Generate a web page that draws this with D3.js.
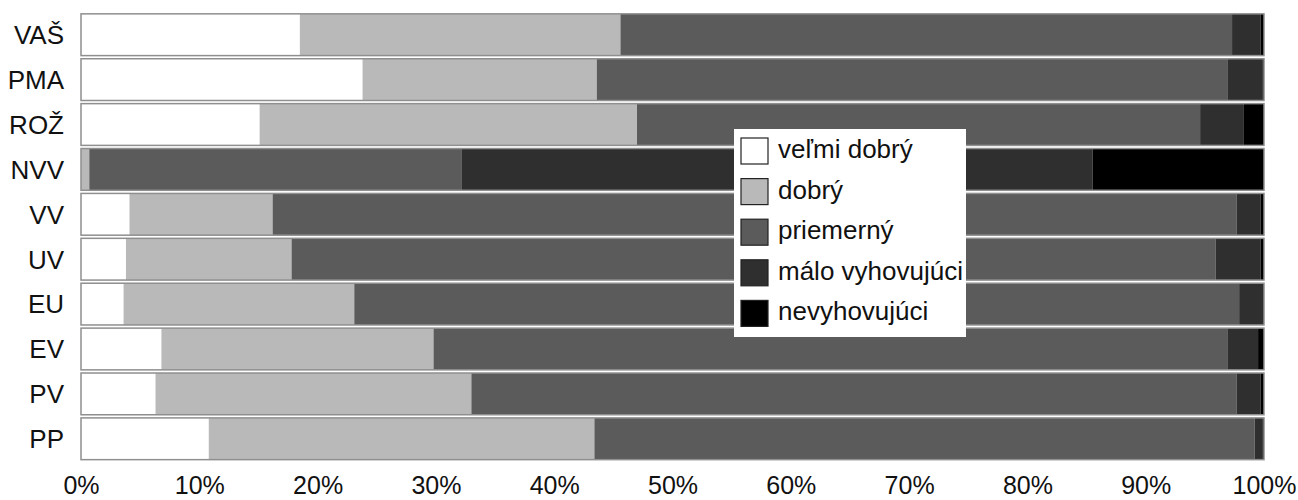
<!DOCTYPE html>
<html>
<head>
<meta charset="utf-8">
<script src="https://cdn.jsdelivr.net/npm/d3@7"></script>
<style>
body { margin: 0; background: #fff; }
text { font-family: "Liberation Sans", Arial, sans-serif; }
</style>
</head>
<body>
<script>
var categories = ['VAŠ','PMA','ROŽ','NVV','VV','UV','EU','EV','PV','PP'];
var seriesNames = ['veľmi dobrý','dobrý','priemerný','málo vyhovujúci','nevyhovujúci'];
var velmiDobry     = [18.5, 23.8, 15.1, 0.0,  4.1,  3.8,  3.6,  6.8,  6.3, 10.8];
var dobry          = [27.1, 19.8, 31.9, 0.7, 12.1, 14.0, 19.5, 23.0, 26.7, 32.6];
var priemerny      = [51.7, 53.3, 47.6, 31.5, 81.5, 78.1, 74.8, 67.1, 64.7, 55.8];
var maloVyhovujuci = [2.4,  3.0,  3.7, 53.3,  2.0,  3.8,  2.1,  2.6,  2.0,  0.7];
var nevyhovujuci   = [0.3,  0.1,  1.7, 14.5,  0.3,  0.3,  0.0,  0.5,  0.3,  0.1];
var tickValues = [0,10,20,30,40,50,60,70,80,90,100];
var colors = ['#ffffff','#b9b9b9','#5b5b5b','#2f2f2f','#000000'];

var keys = ['k0','k1','k2','k3','k4'];
var rows = categories.map(function(c,i){
  return {cat:c, k0:velmiDobry[i], k1:dobry[i], k2:priemerny[i], k3:maloVyhovujuci[i], k4:nevyhovujuci[i]};
});

var svg = d3.select("body").append("svg").attr("width",1298).attr("height",500);

var x = d3.scaleLinear().domain([0,100]).range([81,1264]);
var y = d3.scaleBand().domain(categories).range([12.5,461]).paddingInner(0.07).paddingOuter(0.03);
var color = d3.scaleOrdinal().domain(keys).range(colors);

var stack = d3.stack().keys(keys)(rows);

svg.selectAll("g.layer")
.data(stack)
.enter().append("g")
  .attr("class","layer")
  .attr("fill",function(d){ return color(d.key); })
.selectAll("rect")
.data(function(d){ return d; })
.enter().append("rect")
  .attr("x",function(d){ return x(d[0]); })
  .attr("width",function(d){ return Math.max(0, x(d[1]) - x(d[0])); })
  .attr("y",function(d){ return y(d.data.cat); })
  .attr("height",y.bandwidth());

// bar outlines
svg.selectAll("rect.outline")
.data(categories)
.enter().append("rect")
  .attr("class","outline")
  .attr("x",x(0))
  .attr("width",x(100)-x(0))
  .attr("y",function(d){ return y(d); })
  .attr("height",y.bandwidth())
  .attr("fill","none")
  .attr("stroke","#8f8f8f")
  .attr("stroke-width",1.5);

// category labels
svg.selectAll("text.cat")
.data(categories)
.enter().append("text")
  .attr("class","cat")
  .attr("x",64)
  .attr("y",function(d){ return y(d) + y.bandwidth()/2; })
  .attr("dy","0.36em")
  .attr("text-anchor","end")
  .attr("font-size","26px")
  .attr("fill","#111")
  .text(function(d){ return d; });

// x axis labels
var xAxis = d3.axisBottom(x).tickValues(tickValues).tickSize(0).tickPadding(0)
  .tickFormat(function(d){ return d + "%"; });
var gx = svg.append("g").attr("transform","translate(0,494)").call(xAxis);
gx.select(".domain").remove();
gx.selectAll("text").attr("font-size","25px").attr("fill","#111")
  .attr("font-family","Liberation Sans, Arial, sans-serif").attr("dy","0");

// legend
var legend = svg.append("g").attr("transform","translate(734,129)");
legend.append("rect").attr("width",232).attr("height",208).attr("fill","#fff");
var item = legend.selectAll("g.item")
.data(seriesNames)
.enter().append("g")
  .attr("class","item")
  .attr("transform",function(d,i){ return "translate(0," + (9 + i*40.6) + ")"; });
item.append("rect")
  .attr("x",7).attr("y",0).attr("width",27).attr("height",26)
  .attr("fill",function(d,i){ return colors[i]; })
  .attr("stroke","#222").attr("stroke-width",1.2);
item.append("text")
  .attr("x",44).attr("y",20)
  .attr("font-size","26px")
  .attr("fill","#111")
  .text(function(d){ return d; });
</script>
</body>
</html>
